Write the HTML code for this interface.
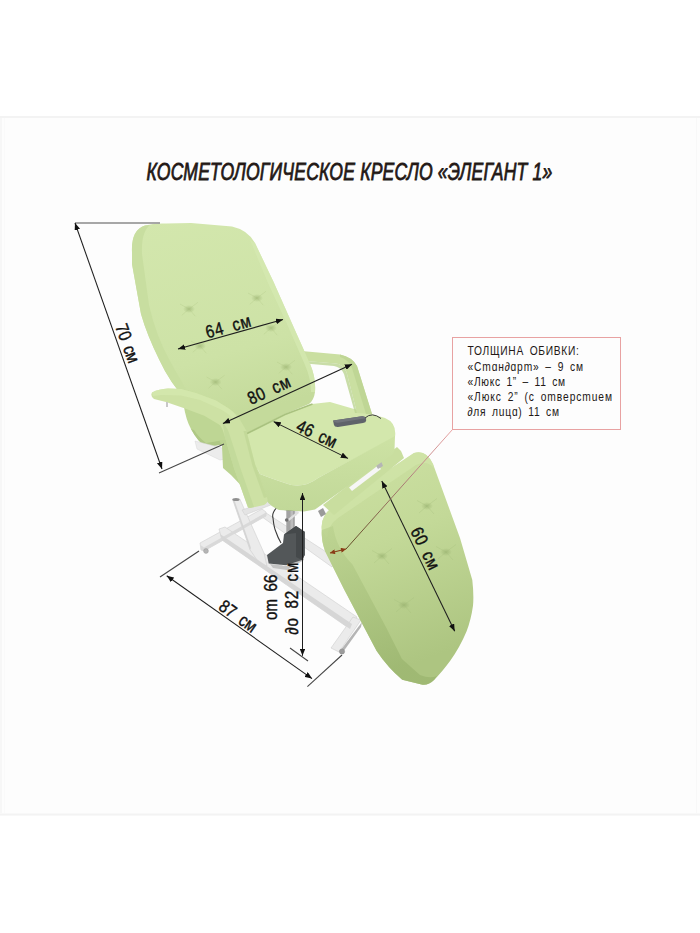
<!DOCTYPE html>
<html><head><meta charset="utf-8">
<style>
html,body{margin:0;padding:0;background:#fff;width:700px;height:933px;overflow:hidden}
svg{display:block}
text{font-family:"Liberation Sans",sans-serif}
</style></head>
<body>
<svg width="700" height="933" viewBox="0 0 700 933">
<defs>
  <linearGradient id="gLeg" x1="0" y1="0" x2="0.25" y2="1">
    <stop offset="0" stop-color="#cde1a3"/>
    <stop offset="0.45" stop-color="#c3d998"/>
    <stop offset="1" stop-color="#adc581"/>
  </linearGradient>
  <linearGradient id="gLegSide" x1="0" y1="0" x2="0.3" y2="1">
    <stop offset="0" stop-color="#bcd391"/>
    <stop offset="1" stop-color="#9cb670"/>
  </linearGradient>
  <linearGradient id="gBack" x1="0" y1="0" x2="0.25" y2="1">
    <stop offset="0" stop-color="#d3e7ad"/>
    <stop offset="0.7" stop-color="#cde2a6"/>
    <stop offset="1" stop-color="#c4da9b"/>
  </linearGradient>
  <linearGradient id="gSeatFace" x1="0" y1="0" x2="0" y2="1">
    <stop offset="0" stop-color="#cde2a4"/>
    <stop offset="1" stop-color="#c1d898"/>
  </linearGradient>
  <radialGradient id="dimple">
    <stop offset="0" stop-color="#8fa866" stop-opacity="0.55"/>
    <stop offset="1" stop-color="#8fa866" stop-opacity="0"/>
  </radialGradient>
  <marker id="ah" viewBox="0 0 10 8" refX="10" refY="4" markerWidth="7.2" markerHeight="5.8" markerUnits="userSpaceOnUse" orient="auto-start-reverse">
    <path d="M0,0 L10,4 L0,8 Z" fill="#111"/>
  </marker>
  <marker id="ahb" viewBox="0 0 10 10" refX="10" refY="5" markerWidth="7" markerHeight="5" markerUnits="userSpaceOnUse" orient="auto-start-reverse">
    <path d="M0,0 L10,5 L0,10 Z" fill="#8a3b17"/>
  </marker>
</defs>
<rect x="0" y="0" width="700" height="933" fill="#ffffff"/>
<rect x="0" y="116" width="700" height="700" fill="#fdfdfd"/>
<line x1="0" y1="117" x2="700" y2="117" stroke="#f3f3f3" stroke-width="2"/>
<line x1="0" y1="814.5" x2="700" y2="814.5" stroke="#f3f3f3" stroke-width="2"/>
<line x1="1" y1="118" x2="1" y2="813" stroke="#f7f7f7" stroke-width="2"/>
<line x1="4.5" y1="118" x2="4.5" y2="813" stroke="#fafafa" stroke-width="1"/>
<line x1="696.5" y1="118" x2="696.5" y2="813" stroke="#f8f8f8" stroke-width="1"/>

<!-- TITLE -->
<g transform="translate(146.5,180) scale(0.75,1)"><text x="0" y="0" font-size="23.4" font-style="italic" fill="#231815" stroke="#231815" stroke-width="0.8" textLength="541" lengthAdjust="spacing">КОСМЕТОЛОГИЧЕСКОЕ КРЕСЛО «ЭЛЕГАНТ 1»</text></g>

<!-- ===== CHAIR ===== -->
<g id="chair">
<!-- base metal -->
<g fill="#ebebeb" stroke="#cfcfcf" stroke-width="0.6" stroke-linejoin="round">
  <polygon points="258,514 263,511 337,559 332,567"/>
  <polygon points="200,543 262,509 266,512 266,516 204,551 201,550"/>
  <polygon points="219,529 225,527 357,617 350,629 222,540"/>
  <polygon points="331,648 353,617 361,620 339,652"/>
  <polygon points="232.5,499 239.8,499 264,553 267,566 259,563 250,549.7"/>
</g>
<polygon points="204,547.5 266,512.5 266,516 204,551 201,550 200.5,545" fill="#d9d9d9"/>
<polygon points="220,534 352,624 350,629 222,540" fill="#d6d6d6"/>
<polygon points="340,651 362,622 361,627 343,652" fill="#b5b5b5"/>
<polygon points="232.5,499 234,499 251,548 250,549.7" fill="#d4d4d4"/>
<ellipse cx="236" cy="499.5" rx="3.6" ry="1.6" fill="#8f8f8f"/>
<circle cx="206" cy="551" r="2.4" fill="#b5b5b5" stroke="#999" stroke-width="0.5"/>
<circle cx="342" cy="651.5" r="2.6" fill="#9c9c9c" stroke="#888" stroke-width="0.5"/>
<polygon points="242,510 273,499 276,503 245,515" fill="#e4e4e4" stroke="#cdcdcd" stroke-width="0.5"/>
<polygon points="276,500 298,512 296,516 274,505" fill="#dcdcdc"/>
<!-- pump -->
<polygon points="270,564 286,566 304,556 304,560 287,570 273,568" fill="#c4c4c4"/>
<rect x="286.3" y="507" width="8.5" height="33" fill="#a3a3a3"/>
<rect x="290.5" y="507" width="2.5" height="33" fill="#bcbcbc"/>
<ellipse cx="290.5" cy="509" rx="5" ry="2" fill="#7b7b7b"/>
<polygon points="288,519 298,511 299,513 289,521" fill="#e0e0e0"/>
<circle cx="286.7" cy="520" r="1.8" fill="#6f6f6f"/>
<polygon points="267,555 283,543 284,534.4 296,526 304.7,531.8 304.7,555 302,560 286,565.3 268.7,563.6" fill="#535759"/>
<polygon points="284,534.4 296,526 304.7,531.8 304.7,555 302,560 296,557 296,533" fill="#45494b"/>
<path d="M280.7,503.6 Q271,512 273,518 Q274,528 276,532 Q278,538 281,543" fill="none" stroke="#3a3a3a" stroke-width="1.1"/>

<!-- legrest -->
<path d="M321.8,530 Q320,514 336,505 L414,453 Q426,449 433,464 L460,538 L472.3,580 Q474,595 473,605.8 Q471,620 466.5,631.5 Q460,647 450.4,660.5 Q442,672 434.3,679.7 Q428,686 421.5,684.6 L402.2,679.7 Q388,668 376.5,650.8 L344.3,589.7 L325,551 Q321,540 321.8,530 Z" fill="url(#gLeg)"/>
<!-- legrest top face strip -->
<path d="M321.8,530 Q320,514 336,505 L414,453 Q426,449 433,464 L434,468 Q427,460 416,465 L338,518 Q328,525 327,538 Z" fill="#d0e4a8" opacity="0.75"/>
<!-- legrest lower-left side/thickness -->
<path d="M321.8,530 Q321,540 325,551 L344.3,589.7 L376.5,650.8 Q388,668 402.2,679.7 L421.5,684.6 Q428,686 434.3,679.7 L437,676 Q430,679 420,675 L402,659 L386.3,627.7 L352.5,564.6 Q336,548 333,526 Z" fill="url(#gLegSide)" opacity="0.8"/>
<!-- legrest tufting -->
<g fill="url(#dimple)">
  <ellipse cx="427" cy="506" rx="6" ry="4"/>
  <ellipse cx="382" cy="556" rx="6" ry="4"/>
  <ellipse cx="446" cy="552" rx="6" ry="4"/>
  <ellipse cx="404" cy="605" rx="6" ry="4"/>
</g>
<g stroke="#9fb875" stroke-width="0.9" fill="none" opacity="0.3"><path d="M417,500.5 L427,506 L437,498.5 M419.0,513.0 L427,506 L434.0,514.0 M372,550.5 L382,556 L392,548.5 M374.0,563.0 L382,556 L389.0,564.0 M436,546.5 L446,552 L456,544.5 M438.0,559.0 L446,552 L453.0,560.0 M394,599.5 L404,605 L414,597.5 M396.0,612.0 L404,605 L411.0,613.0"/></g>
<!-- hinge strip -->
<polygon points="323,505 397,447 401,451 404,458 334,515" fill="#c9de9f"/>
<polygon points="349,487.5 378,465.5 381,469 352,491" fill="#f6f6f6"/>
<polygon points="375,464 381,461 383,466 378,469" fill="#b5b5b5"/>
<polygon points="318,511 323,508 326,514 321,517" fill="#9a9a9a"/>
<!-- seat top -->
<path d="M240,448 L245,434 L285,414 L312,404 L330,402 L385,418 Q397,423 395,437 L318,478 Q302,490 285,483 Q270,478 260,474 L258,470 Z" fill="#d3e7ac"/>
<!-- seat front/side face -->
<path d="M258,470 L260,474 Q270,478 285,483 Q302,490 318,478 L395,436 L394.5,450 L393,454 L315,509.4 L304,511.5 L279,510 Q270,506 266,500 L252,470 L250,455 Z" fill="url(#gSeatFace)"/>

<!-- right armrest -->
<path d="M296,350.5 L340,354.5 Q352,357 357,366 L372,414 L357,413 L346.5,372 Q343,364 336,363.5 L300,360.5 Z" fill="#cadfa1"/>
<path d="M340,354.5 Q352,357 357,366 L372,414 L366,414 L352,368 Q349,360 340,357 Z" fill="#bfd695"/>
<path d="M300,360.5 L336,363.5 Q343,364 346.5,372 L357,413 L355,413 L344,374 Q341,367 334,366 L300,363 Z" fill="#bcd492" opacity="0.8"/>

<!-- backrest -->
<path d="M132,252 Q131,230 145,225.5 Q154,223 166,223.5 L191,223 L232,226.5 Q248,230 255,243 L273.7,282.3 L292,323.4 L310.3,364.6 Q316,378 315,392 Q314,400 309,404 L285,414 L245,434 L205,432 L187,401 Q170,383 159.4,360 Q147,335 141,314 L132,264 Z" fill="url(#gBack)"/>
<!-- backrest side band -->
<path d="M132,252 Q131,230 145,225.5 L150,225 Q141,232 142,254 L149,305 Q156,336 170,361 Q182,383 193,401 L187,401 Q170,383 159.4,360 Q147,335 141,314 L132,264 Z" fill="#c8dea0"/>
<!-- right bevel highlight -->
<path d="M255,243 L273.7,282.3 L292,323.4 L310.3,364.6 Q316,378 315,392 L311,392 Q311,379 305,365 L287,324 L268,283 L250,240 Z" fill="#d6e9b2" opacity="0.7"/>
<!-- junction shadow backrest/seat -->
<path d="M245,434.5 L285,414.5 L312.5,404" fill="none" stroke="#a9c27f" stroke-width="1.6"/>
<!-- backrest tufting -->
<g fill="url(#dimple)">
  <ellipse cx="189" cy="309" rx="6" ry="4"/>
  <ellipse cx="257" cy="298" rx="6" ry="4"/>
  <ellipse cx="200" cy="346" rx="6" ry="4"/>
  <ellipse cx="271" cy="328" rx="6" ry="4"/>
  <ellipse cx="215.6" cy="382" rx="6" ry="4"/>
  <ellipse cx="286" cy="367" rx="6" ry="4"/>
</g>
<g stroke="#a9c27f" stroke-width="0.9" fill="none" opacity="0.3"><path d="M180,304.05 L189,309 L198,302.25 M181.8,315.3 L189,309 L195.3,316.2 M248,293.05 L257,298 L266,291.25 M249.8,304.3 L257,298 L263.3,305.2 M191,341.05 L200,346 L209,339.25 M192.8,352.3 L200,346 L206.3,353.2 M262,323.05 L271,328 L280,321.25 M263.8,334.3 L271,328 L277.3,335.2 M206.6,377.05 L215.6,382 L224.6,375.25 M208.4,388.3 L215.6,382 L221.9,389.2 M277,362.05 L286,367 L295,360.25 M278.8,373.3 L286,367 L292.3,374.2"/></g>

<!-- backrest side cushion under left armrest -->
<path d="M183.6,405 Q186,420 191,429 Q198,442 206,447 L232,443 L228,420 L218,412 Z" fill="#bed694"/>
<path d="M191,429 Q198,442 206,447 L232,443 L231,439 L206,443 Q199,438 194,430 Z" fill="#afc885"/>
<polygon points="195,441 197,449 220,460 230,458 230,450" fill="#ececec" stroke="#d6d6d6" stroke-width="0.5"/>
<!-- seat left side visible -->
<path d="M219,440 L222,446 L223,468 L231,475 L252,497 L258,480 L245,440 Z" fill="#bbd391"/>

<!-- left armrest -->
<path d="M152,392.5 Q159,389 168,388.6 L181,389 L196,392.9 L216,400.5 L228,408 Q236,413 239,418 L246.5,431 L255.5,466 L267,497 Q269,503 264,505 L250,508 Q248,508 247.7,506.8 L233.6,467 L224.6,436 Q222,426 218.6,424.3 L204.3,415.7 L185,408.6 L166,402 L154,399 Q150,396 152,392.5 Z" fill="#cde1a4"/>
<!-- armrest top highlight band -->
<path d="M152,392.5 Q159,389 168,388.6 L181,389 L196,392.9 L216,400.5 L228,408 Q235,413 237,417 L233,419 Q228,413 220,409 L200,400 L181,395.5 L162,395 L153,396 Z" fill="#d5e8ae" opacity="0.8"/>
<!-- arm front shade -->
<path d="M224.6,436 L233.6,467 L247.7,506.8 Q248,508 250,508 L254,507 L240,467 L230,436 Q228,428 222,422 Q224,428 224.6,436 Z" fill="#c1d898" opacity="0.8"/>
<path d="M246.5,431 L255.5,466 L267,497 L264,498 L252.5,466 L243.5,431 Z" fill="#bcd493" opacity="0.6"/>
<rect x="166" y="402" width="2" height="5" fill="#c8c8c8"/>

<!-- remote -->
<path d="M333,420.5 L362,416.2 Q365,416 366,418.5 L366.2,420.5 Q366,422.5 363,423 L338,427 Q334.5,427.2 334,425 Z" fill="#5f636a"/>
<path d="M333.5,420.5 L362,416.3 Q365,416.2 365.8,418.3 L338,422.8 Q334.5,423 333.5,421 Z" fill="#70747b"/>
<path d="M365,418 Q372,411.5 381,418.5" fill="none" stroke="#3f3f3f" stroke-width="1"/>
</g>

<!-- ===== ANNOTATIONS ===== -->
<g stroke="#1e1e1e" stroke-width="1.05" fill="none">
  <line x1="75" y1="223" x2="160" y2="223" stroke="#8a8a8a" stroke-width="1.3"/>
  <line x1="159" y1="473" x2="224" y2="444" stroke="#444"/>
  <line x1="75" y1="223" x2="162" y2="469" marker-start="url(#ah)" marker-end="url(#ah)"/>
  <line x1="178" y1="349" x2="283" y2="319.5" marker-start="url(#ah)" marker-end="url(#ah)"/>
  <line x1="223" y1="423.6" x2="352" y2="364.2" marker-start="url(#ah)" marker-end="url(#ah)"/>
  <line x1="273.6" y1="421.6" x2="348" y2="458.4" marker-start="url(#ah)" marker-end="url(#ah)"/>
  <line x1="381.8" y1="481" x2="454.7" y2="631.2" marker-start="url(#ah)" marker-end="url(#ah)"/>
  <line x1="166.7" y1="575.7" x2="312" y2="678.6" marker-start="url(#ah)" marker-end="url(#ah)"/>
  <line x1="160" y1="577" x2="199" y2="551" stroke="#444"/>
  <line x1="307.4" y1="686.7" x2="342" y2="655" stroke="#444"/>
  <line x1="302.5" y1="493" x2="302.5" y2="655.8" marker-start="url(#ah)" marker-end="url(#ah)"/>
  <line x1="290" y1="648" x2="308" y2="661" stroke="#444"/>
  <defs><linearGradient id="gRed" gradientUnits="userSpaceOnUse" x1="452.5" y1="429.5" x2="346" y2="549"><stop offset="0" stop-color="#e9a3a3"/><stop offset="0.35" stop-color="#b98585"/><stop offset="1" stop-color="#5e4a22"/></linearGradient></defs>
  <line x1="452.5" y1="429.5" x2="346" y2="549" stroke="url(#gRed)" stroke-width="1"/>
  <line x1="330" y1="553" x2="346" y2="549" stroke="#8a3b17" stroke-width="1.2" marker-start="url(#ahb)" marker-end="url(#ahb)"/>
</g>

<g fill="#111" font-size="18" stroke="#111" stroke-width="0.4" word-spacing="4">
  <g transform="translate(207.6,338.6) rotate(-15.55) scale(0.84,1)"><text textLength="55" lengthAdjust="spacing">64 см</text></g>
  <g transform="translate(251.1,405) rotate(-24.7) scale(0.84,1)"><text textLength="53.5" lengthAdjust="spacing">80 см</text></g>
  <g transform="translate(295,430.4) rotate(25.2) scale(0.84,1)"><text textLength="50.5" lengthAdjust="spacing">46 см</text></g>
  <g transform="translate(115,326.5) rotate(70) scale(0.84,1)"><text textLength="48" lengthAdjust="spacing">70 см</text></g>
  <g transform="translate(410,531) rotate(64) scale(0.84,1)"><text textLength="53" lengthAdjust="spacing">60 см</text></g>
  <g transform="translate(217.5,609) rotate(35.3) scale(0.84,1)"><text textLength="50" lengthAdjust="spacing">87 см</text></g>
  <g transform="translate(277.3,620) rotate(-90) scale(0.84,1)"><text textLength="54" lengthAdjust="spacing">om 66</text></g>
  <g transform="translate(297.5,634.8) rotate(-90) scale(0.84,1)"><text textLength="86" lengthAdjust="spacing">∂о 82 см</text></g>
</g>

<!-- info box -->
<rect x="452.5" y="337.5" width="168" height="92" fill="none" stroke="#e8a2a2" stroke-width="1"/>
<g fill="#231815" font-size="12.2" word-spacing="2.5" transform="translate(467.5,0) scale(0.84,1)">
  <text x="0" y="355.2" textLength="132.7" lengthAdjust="spacing">ТОЛЩИНА ОБИВКИ:</text>
  <text x="0" y="370.9" textLength="137.5" lengthAdjust="spacing">«Cmɑн∂ɑрm» – 9 см</text>
  <text x="0" y="385.8" textLength="116.1" lengthAdjust="spacing">«Люкс 1” – 11 см</text>
  <text x="0" y="400.6" textLength="172.0" lengthAdjust="spacing">«Люкс 2” (с omверсmuем</text>
  <text x="0" y="415.8" textLength="108.9" lengthAdjust="spacing">∂ля лuцɑ) 11 см</text>
</g>
</svg>
</body></html>
